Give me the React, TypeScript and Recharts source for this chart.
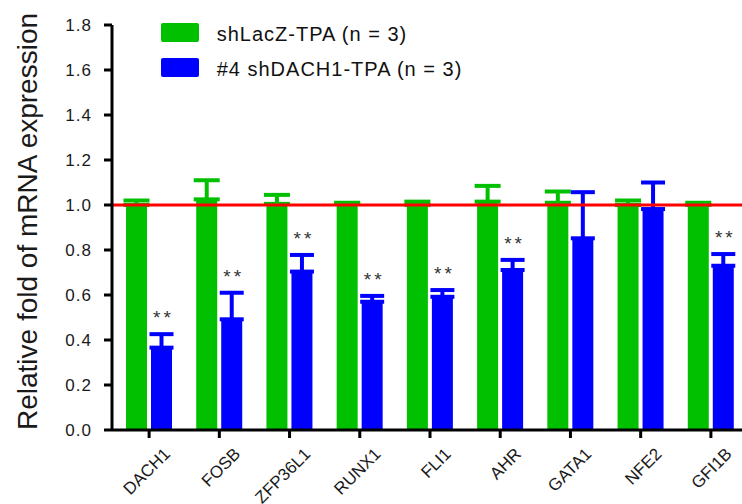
import React from 'react';
import { BarChart, Bar, XAxis, YAxis, ErrorBar, ReferenceLine, Legend, LabelList } from 'recharts';

const categories = ['DACH1', 'FOSB', 'ZFP36L1', 'RUNX1', 'FLI1', 'AHR', 'GATA1', 'NFE2', 'GFI1B'];
const lacZ = [1.0, 1.025, 1.005, 1.005, 1.0, 1.015, 1.01, 1.0, 1.0];
const lacZErr = [0.02, 0.085, 0.04, 0.005, 0.015, 0.07, 0.05, 0.02, 0.01];
const dach = [0.366, 0.492, 0.704, 0.57, 0.592, 0.711, 0.852, 0.982, 0.73];
const dachErr = [0.06, 0.118, 0.074, 0.026, 0.03, 0.045, 0.205, 0.118, 0.052];
const sig = ['**', '**', '**', '**', '**', '**', '', '', '**'];
const yTicks = [0, 0.2, 0.4, 0.6, 0.8, 1.0, 1.2, 1.4, 1.6, 1.8];
const seriesNames = ['shLacZ-TPA (n = 3)', '#4 shDACH1-TPA (n = 3)'];
const yLabel = 'Relative fold of mRNA expression';

const GREEN = '#00C000';
const BLUE = '#0000FF';
const FONT = '"Liberation Sans", Arial, Helvetica, sans-serif';
const TEXT = '#1a1a1a';

const data = categories.map((name, i) => ({
  name,
  lacZ: lacZ[i],
  lacZErr: [0, lacZErr[i]],
  dach: dach[i],
  dachErr: [0, dachErr[i]],
}));

const XTick = (props: any) => {
  const { x, y, payload } = props;
  const ax = x + 22;
  const ay = y + 15;
  return (
    <text
      x={ax}
      y={ay}
      transform={`rotate(-45 ${ax} ${ay})`}
      textAnchor="end"
      fontSize={17}
      fontFamily={FONT}
      fill={TEXT}
    >
      {payload.value}
    </text>
  );
};

const YLabel = (props: any) => {
  const vb = props.viewBox || {};
  const cx = 37;
  const cy = vb.y + vb.height / 2 - 6;
  return (
    <text
      x={cx}
      y={cy}
      transform={`rotate(-90 ${cx} ${cy})`}
      textAnchor="middle"
      fontSize={28}
      fontFamily={FONT}
      fill={TEXT}
    >
      {yLabel}
    </text>
  );
};

const StarLabel = (props: any) => {
  const vb = props.viewBox || props;
  const index = props.index;
  const s = sig[index];
  if (!s) return null;
  const x = vb.x;
  const y = vb.y;
  const w = vb.width;
  const h = Math.abs(vb.height);
  const v = dach[index];
  const errPx = (dachErr[index] * h) / v;
  return (
    <text
      x={x + w / 2 + 2}
      y={y - errPx - 10}
      textAnchor="middle"
      fontSize={19}
      letterSpacing={3}
      fontFamily={FONT}
      fill="#333"
    >
      {s}
    </text>
  );
};

const renderLegend = (props: any) => {
  const payload = [...(props.payload || [])].sort(
    (a: any, b: any) => seriesNames.indexOf(a.value) - seriesNames.indexOf(b.value)
  );
  return (
    <div style={{ position: 'relative', width: 330, height: 70, fontFamily: FONT }}>
      {payload.map((p: any, i: number) => (
        <div key={i} style={{ position: 'absolute', left: 0, top: i * 34.5, width: 330, height: 20 }}>
          <div
            style={{
              position: 'absolute',
              left: 0,
              top: 0,
              width: 38,
              height: 19,
              background: p.color,
              borderRadius: 2,
            }}
          />
          <span
            style={{
              position: 'absolute',
              left: 55.7,
              top: 1,
              fontSize: 20,
              lineHeight: '20px',
              letterSpacing: 1,
              color: '#111',
              whiteSpace: 'nowrap',
            }}
          >
            {p.value}
          </span>
        </div>
      ))}
    </div>
  );
};

export default function App() {
  return (
    <div
      style={{
        position: 'absolute',
        left: 0,
        top: 0,
        width: 742,
        height: 504,
        overflow: 'hidden',
        background: '#fff',
      }}
    >
      <BarChart
        width={760}
        height={504}
        data={data}
        margin={{ top: 25, right: 14, left: 50, bottom: 14 }}
        barSize={21}
        barGap={4}
      >
        <XAxis
          dataKey="name"
          interval={0}
          height={60}
          tickSize={8}
          padding={{ left: 2, right: 0 }}
          axisLine={{ stroke: '#000', strokeWidth: 3 }}
          tickLine={{ stroke: '#000', strokeWidth: 3 }}
          tick={<XTick />}
        />
        <YAxis
          domain={[0, 1.8]}
          ticks={yTicks}
          interval={0}
          width={62}
          tickSize={8}
          tickMargin={12}
          tickFormatter={(v: number) => v.toFixed(1)}
          axisLine={{ stroke: '#000', strokeWidth: 3 }}
          tickLine={{ stroke: '#000', strokeWidth: 3 }}
          tick={{ fontSize: 17, fill: TEXT, fontFamily: FONT, letterSpacing: 1 }}
          label={<YLabel />}
        />
        <Legend
          layout="vertical"
          verticalAlign="middle"
          align="center"
          content={renderLegend}
          wrapperStyle={{ left: 161, top: 23, width: 330, height: 70 }}
        />
        <Bar dataKey="lacZ" name={seriesNames[0]} fill={GREEN} isAnimationActive={false}>
          <ErrorBar dataKey="lacZErr" direction="y" width={13} strokeWidth={4} stroke={GREEN} />
        </Bar>
        <Bar dataKey="dach" name={seriesNames[1]} fill={BLUE} isAnimationActive={false}>
          <ErrorBar dataKey="dachErr" direction="y" width={12} strokeWidth={4} stroke={BLUE} />
          <LabelList dataKey="dach" content={<StarLabel />} />
        </Bar>
        <ReferenceLine y={1} stroke="#FF0000" strokeWidth={3} ifOverflow="extendDomain" />
      </BarChart>
    </div>
  );
}
